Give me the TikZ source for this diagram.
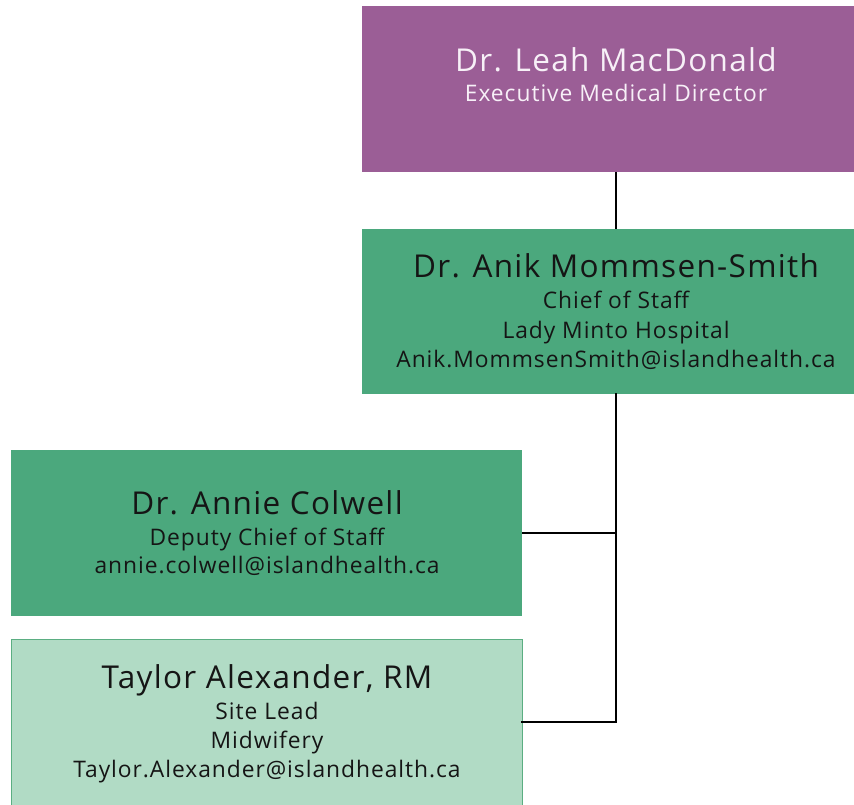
\documentclass[tikz,border=0pt]{standalone}
\usepackage{fontspec}
\setmainfont{Open Sans}[LetterSpace=4.2]
\definecolor{purp}{HTML}{9B5E96}
\definecolor{grn}{HTML}{4BA87D}
\definecolor{lgrn}{HTML}{B1DBC5}
\definecolor{lgrnline}{HTML}{5BAE82}
\definecolor{txtw}{HTML}{F7F0F7}
\definecolor{txtd}{HTML}{151515}
\tikzset{
  box/.style={rectangle, anchor=north west, inner sep=0pt, outer sep=0pt},
  ttl/.style={anchor=base, inner sep=0pt, font=\fontsize{31.5}{31.5}\selectfont},
  sub/.style={anchor=base, inner sep=0pt, font=\fontsize{22.8}{22.8}\selectfont},
  conn/.style={draw=black, line width=2.4pt}
}
\begin{document}
\begin{tikzpicture}[x=1pt,y=-1pt]
\useasboundingbox (0,0) rectangle (854,805);
\clip (0,0) rectangle (854,805);
% boxes
\node[box, fill=purp, minimum width=510pt, minimum height=166pt] (b1) at (362,6) {};
\node[box, fill=grn, minimum width=510pt, minimum height=165pt] (b2) at (362,229) {};
\node[box, fill=grn, minimum width=511pt, minimum height=166pt] (b3) at (11,450) {};
\node[box, fill=lgrn, draw=lgrnline, line width=1pt, minimum width=511pt, minimum height=170pt] (b4) at (11,639) {};
% text box 1
\node[ttl, text=txtw] (t1a) at (616,72) {Dr. Leah MacDonald};
\node[sub, text=txtw] (t1b) at (616,102) {Executive Medical Director};
% text box 2
\node[ttl, text=txtd] (t2a) at (616,277) {Dr. Anik Mommsen-Smith};
\node[sub, text=txtd] (t2b) at (616,308) {Chief of Staff};
\node[sub, text=txtd] (t2c) at (616,338) {Lady Minto Hospital};
\node[sub, text=txtd] (t2d) at (616,367) {Anik.MommsenSmith@islandhealth.ca};
% text box 3
\node[ttl, text=txtd] (t3a) at (267,514) {Dr. Annie Colwell};
\node[sub, text=txtd] (t3b) at (267,545) {Deputy Chief of Staff};
\node[sub, text=txtd] (t3c) at (267,573) {annie.colwell@islandhealth.ca};
% text box 4
\node[ttl, text=txtd] (t4a) at (267,688) {Taylor Alexander, RM};
\node[sub, text=txtd] (t4b) at (267,719) {Site Lead};
\node[sub, text=txtd] (t4c) at (267,748) {Midwifery};
\node[sub, text=txtd] (t4d) at (267,777) {Taylor.Alexander@islandhealth.ca};
% connectors
\coordinate (j1) at (616,533);
\coordinate (j2) at (616,722);
\draw[conn] (b1.south west -| j1) -- (b2.north west -| j1);
\draw[conn, line cap=rect] (b2.south west -| j1) -- (j2) -- (b4.east |- j2);
\draw[conn] (j1) -- (b3.east |- j1);
\end{tikzpicture}
\end{document}
